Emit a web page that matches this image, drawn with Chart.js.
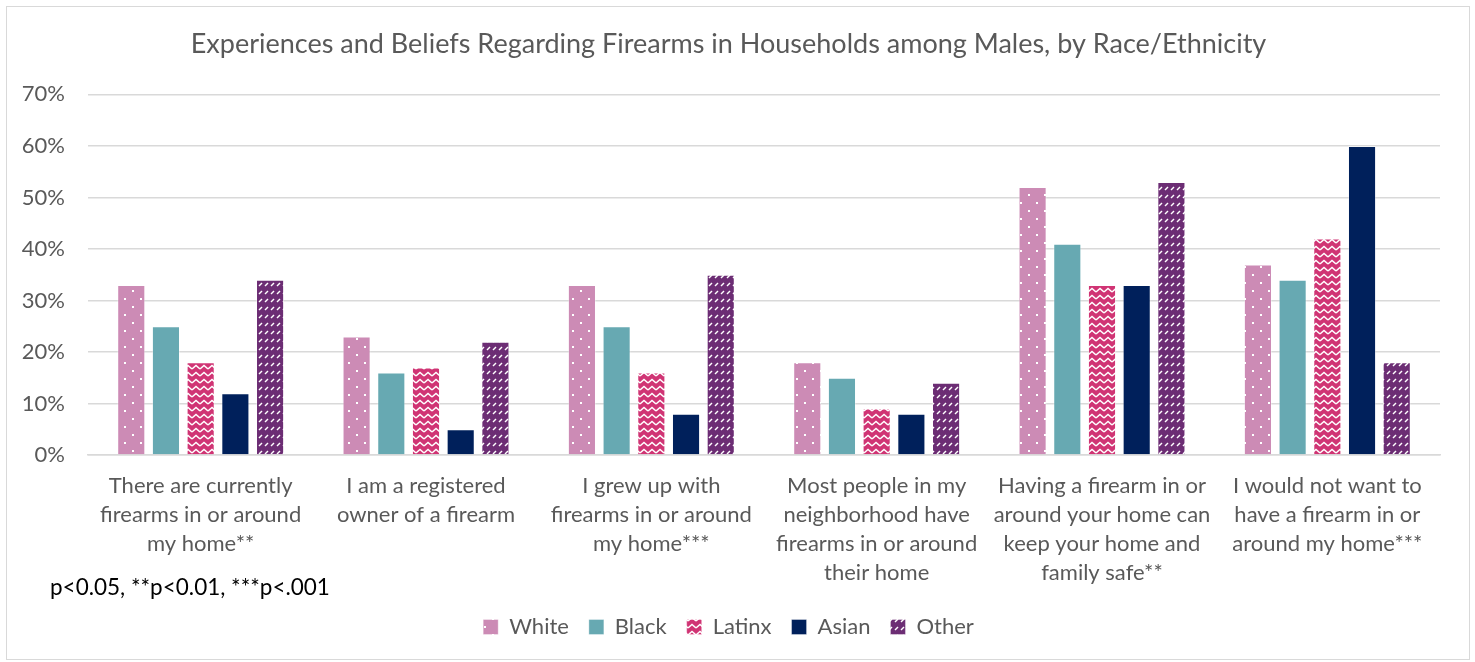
<!DOCTYPE html>
<html>
<head>
<meta charset="utf-8">
<script src="https://cdn.jsdelivr.net/npm/chart.js@4.4.1/dist/chart.umd.min.js"></script>
<style>
    body { margin: 0; background: #fff; }
    #wrap {
        position: absolute; left: 6px; top: 6px;
        width: 1462px; height: 652px;
        border: 1.5px solid #d9d9d9;
    }
    #frame { position: absolute; left: 0; top: 0; width: 1475px; height: 662px; }
</style>
</head>
<body>
<div id="wrap"></div>
<div id="frame"><canvas id="chart" width="1475" height="662"></canvas></div>
<script>
// Data
const categories = [
    ['There are currently', 'firearms in or around', 'my home**'],
    ['I am a registered', 'owner of a firearm'],
    ['I grew up with', 'firearms in or around', 'my home***'],
    ['Most people in my', 'neighborhood have', 'firearms in or around', 'their home'],
    ['Having a firearm in or', 'around your home can', 'keep your home and', 'family safe**'],
    ['I would not want to', 'have a firearm in or', 'around my home***']
];
const seriesNames = ['White', 'Black', 'Latinx', 'Asian', 'Other'];
const whiteVals  = [33, 23, 33, 18, 52, 37];
const blackVals  = [25, 16, 25, 15, 41, 34];
const latinxVals = [18, 17, 16, 9, 33, 42];
const asianVals  = [12, 5, 8, 8, 33, 60];
const otherVals  = [34, 22, 35, 14, 53, 18];
const yTicks = [0, 10, 20, 30, 40, 50, 60, 70];
const footNote = 'p<0.05, **p<0.01, ***p<.001';

const FONT = "Lato, 'Open Sans', sans-serif";
const TEXT = '#595959';

// Patterns
function makePattern(w, h, base, draw) {
    const c = document.createElement('canvas');
    c.width = w; c.height = h;
    const g = c.getContext('2d');
    g.fillStyle = base;
    g.fillRect(0, 0, w, h);
    g.fillStyle = '#fff';
    g.strokeStyle = '#fff';
    draw(g);
    return g.createPattern(c, 'repeat');
}
const ctx = document.getElementById('chart').getContext('2d');

const dotPattern = makePattern(16, 16, '#cc8bb5', g => {
    g.fillRect(4, 2, 2, 2);
    g.fillRect(12, 10, 2, 2);
});
const zigPattern = makePattern(8, 7, '#d03474', g => {
    g.lineWidth = 1.5;
    g.beginPath();
    g.moveTo(0, 5); g.lineTo(4, 1.5); g.lineTo(8, 5);
    g.stroke();
});
const dashPattern = makePattern(6, 8, '#6c2d74', g => {
    g.lineWidth = 1.4;
    g.beginPath();
    g.moveTo(1, 6); g.lineTo(4, 3);
    g.stroke();
});

const footnotePlugin = {
    id: 'footnote',
    afterDraw(chart) {
        const c = chart.ctx;
        c.save();
        c.font = `22.5px ${FONT}`;
        c.fillStyle = '#000';
        c.textBaseline = 'middle';
        c.textAlign = 'left';
        c.fillText(footNote, 50, 588);
        c.restore();
    }
};

const mk = (label, data, bg) => ({
    label, data, backgroundColor: bg,
    borderColor: 'rgba(255,255,255,0.35)', borderWidth: 1,
    categoryPercentage: 0.77, barPercentage: 0.81
});

new Chart(ctx, {
    type: 'bar',
    data: {
        labels: categories,
        datasets: [
            mk(seriesNames[0], whiteVals, dotPattern),
            mk(seriesNames[1], blackVals, '#67a9b2'),
            mk(seriesNames[2], latinxVals, zigPattern),
            mk(seriesNames[3], asianVals, '#00205b'),
            mk(seriesNames[4], otherVals, dashPattern)
        ]
    },
    options: {
        responsive: false,
        animation: false,
        layout: { padding: { left: 17, right: 35, top: 28, bottom: 14 } },
        plugins: {
            title: {
                display: true,
                text: 'Experiences and Beliefs Regarding Firearms in Households among Males, by Race/Ethnicity',
                color: TEXT,
                font: { family: FONT, size: 27, weight: 'normal' },
                padding: { top: 0, bottom: 34 }
            },
            legend: {
                position: 'bottom',
                labels: {
                    color: TEXT,
                    font: { family: FONT, size: 22 },
                    boxWidth: 15, boxHeight: 15,
                    padding: 20
                }
            },
            tooltip: { enabled: false }
        },
        scales: {
            x: {
                grid: { display: false },
                border: { color: '#d9d9d9', width: 1.5 },
                ticks: {
                    color: TEXT,
                    font: { family: FONT, size: 22, lineHeight: 1.33 },
                    maxRotation: 0, autoSkip: false, padding: 8
                }
            },
            y: {
                min: 0, max: 70,
                afterFit: s => { s.width = 71; },
                afterBuildTicks: s => { s.ticks = yTicks.map(v => ({ value: v })); },
                grid: { color: '#d9d9d9', lineWidth: 1.5, drawTicks: false },
                border: { display: false },
                ticks: {
                    color: TEXT,
                    font: { family: FONT, size: 22 },
                    padding: 23,
                    callback: v => v + '%'
                }
            }
        }
    },
    plugins: [footnotePlugin]
});
</script>
</body>
</html>
